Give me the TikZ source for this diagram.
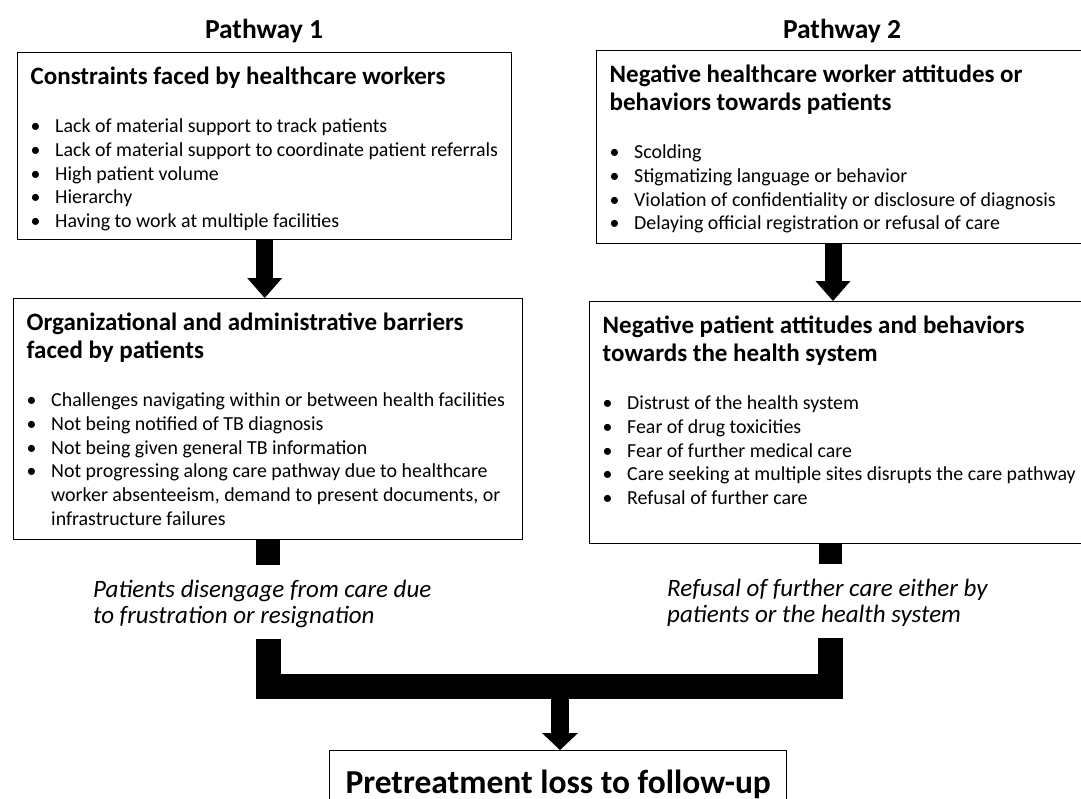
\documentclass[tikz,border=0pt]{standalone}
\usepackage{fontspec}
\setmainfont{Carlito}
\usetikzlibrary{arrows.meta,positioning,calc}
\newcommand\boxtitle[1]{\leftskip=9pt{\fontsize{25}{28}\selectfont\bfseries #1\par}\vspace{24.3pt}}
\newcommand\bitem[1]{\par\hangindent=24.5pt\hangafter=1\noindent\makebox[24.5pt][l]{\textbullet}#1\par}

\begin{document}
\begin{tikzpicture}[
      x = 1pt,y = -1pt,
      box/.style = {draw,line width = 1.4pt,anchor = north west,align = flush left,inner xsep = 4pt,inner ysep = 12pt,text height = 20pt,font = \fontsize{19.9}{23.7}\selectfont},
      pathway/.style = {anchor = base,font = \fontsize{27.5}{30}\selectfont\bfseries},
      outcome/.style = {anchor = north west,align = flush left,text width = 380pt,inner xsep = 0pt,inner ysep = 12pt,text height = 20pt,text depth = 30pt,font = \fontsize{25}{26}\selectfont\itshape},
      fatarrow/.style = {line width = 17pt,-{Triangle[width = 35pt,length = 20pt,line width = 0pt]}},
      joinbar/.style = {line width = 25pt,line join = miter}
    ]
      \useasboundingbox (0,0) rectangle (1081,798);

      \node (p1)[pathway] at (264,38) {Pathway 1};
      \node (p2)[pathway] at (842,38) {Pathway 2};

      \node (c1)[box,text width = 486pt,text depth = 143pt] at (17,52) {\boxtitle{Constraints faced by healthcare workers}
        \bitem{Lack of material support to track patients}
        \bitem{Lack of material support to coordinate patient referrals}
        \bitem{High patient volume}
        \bitem{Hierarchy}
        \bitem{Having to work at multiple facilities}};
      \node (b1)[box,text width = 501pt,text depth = 197pt] at (13,298) {\boxtitle{Organizational and administrative barriers\newline faced by patients}
        \bitem{Challenges navigating within or between health facilities}
        \bitem{Not being notified of TB diagnosis}
        \bitem{Not being given general TB information}
        \bitem{Not progressing along care pathway due to healthcare\newline worker absenteeism, demand to present documents, or\newline infrastructure failures}};
      \node (c2)[box,text width = 496pt,text depth = 149pt] at (596,50) {\boxtitle{Negative healthcare worker attitudes or\newline behaviors towards patients}
        \bitem{Scolding}
        \bitem{Stigmatizing language or behavior}
        \bitem{Violation of confidentiality or disclosure of diagnosis}
        \bitem{Delaying official registration or refusal of care}};
      \node (b2)[box,text width = 503pt,text depth = 198pt] at (589,301) {\boxtitle{Negative patient attitudes and behaviors\newline towards the health system}
        \bitem{Distrust of the health system}
        \bitem{Fear of drug toxicities}
        \bitem{Fear of further medical care}
        \bitem{Care seeking at multiple sites disrupts the care pathway}
        \bitem{Refusal of further care}};

      \node (t1)[outcome] at (93,565) {Patients disengage from care due\\to frustration or resignation};
      \node (t2)[outcome] at (667,564) {Refusal of further care either by\\patients or the health system};

      \node (loss)[draw,line width = 1.4pt,anchor = north west,minimum width = 457pt,inner ysep = 20pt,text height = 23pt,text depth = 30pt,font = \fontsize{33.5}{36}\selectfont\bfseries] at (329,750) {Pretreatment loss to follow-up};

      \coordinate (a2) at ([xshift = 237pt]c2.south west);
      \coordinate (s2) at ([xshift = 241.5pt]b2.south west);
      \coordinate (merge) at (560,686.5);

      \draw[fatarrow] (c1.south) -- (c1.south |- b1.north);
      \draw[fatarrow] (a2) -- (a2 |- b2.north);
      \draw[line width = 24pt] (b1.south) -- (b1.south |- t1.north);
      \draw[line width = 23pt] (s2) -- (s2 |- t2.north);
      \draw[joinbar] (b1.south |- t1.south) |- (merge) -| (s2 |- t2.south);
      \draw[line width = 18pt,-{Triangle[width = 36pt,length = 17pt,line width = 0pt]}] (merge) -- (merge |- loss.north);
    \end{tikzpicture}
\end{document}
